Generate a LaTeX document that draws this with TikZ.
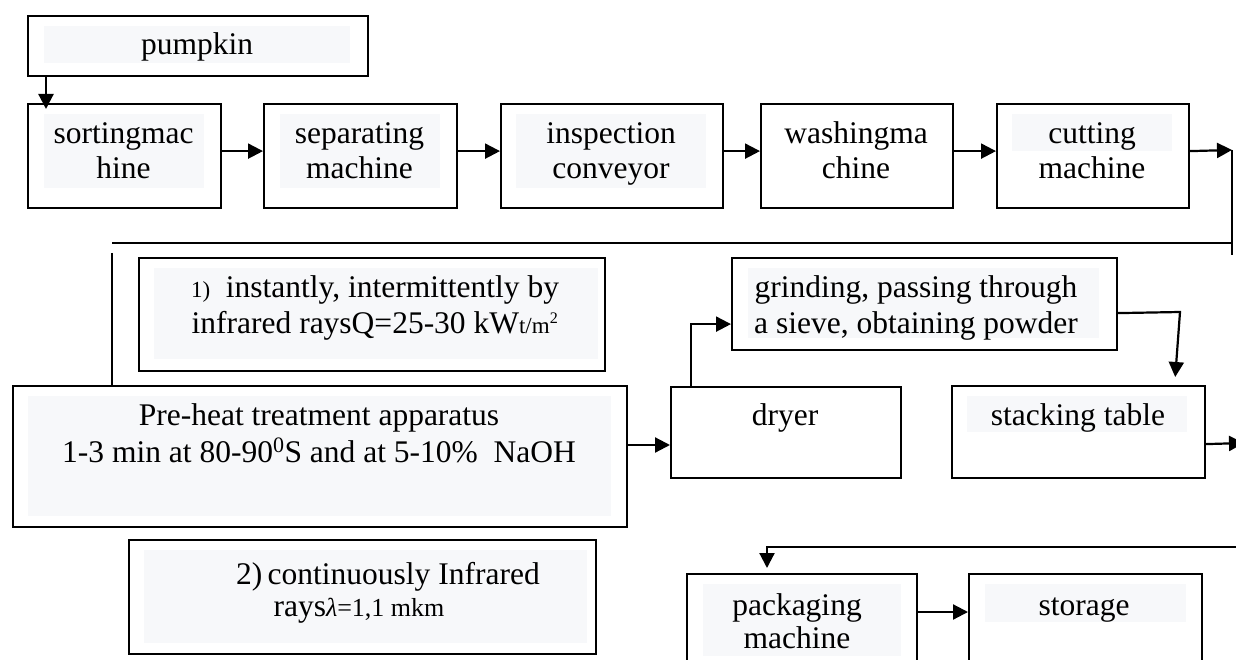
\documentclass[tikz,border=0pt]{standalone}
\usepackage{fontspec}
\setmainfont{Liberation Serif}
\usetikzlibrary{arrows.meta}
\definecolor{paneltint}{RGB}{247,248,250}
\newcommand{\smallbit}[1]{{\fontsize{23}{23}\selectfont #1}}

\begin{document}
\begin{tikzpicture}[x=1pt,y=-1pt,
  stage/.style={draw,line width=2.2pt,rectangle,inner sep=0pt,anchor=north west},
  lbl/.style={anchor=base,inner sep=0pt,font=\fontsize{31.5}{36}\selectfont},
  flow/.style={line width=2.2pt,-{Triangle[length=15pt,width=15pt]}},
  wire/.style={line width=2.2pt}]
\useasboundingbox (0,0) rectangle (1236,660);
\clip (0,0) rectangle (1236,660);

% light backgrounds behind the texts
\fill[paneltint] (44,26) rectangle (350,63);
\fill[paneltint] (44,114) rectangle (204,188);
\fill[paneltint] (280,114) rectangle (440,188);
\fill[paneltint] (516,114) rectangle (706,188);
\fill[paneltint] (1012,114) rectangle (1172,151);
\fill[paneltint] (154,268) rectangle (598,359);
\fill[paneltint] (28,396) rectangle (611,516);
\fill[paneltint] (748,268) rectangle (1099,338);
\fill[paneltint] (967,396) rectangle (1187,432);
\fill[paneltint] (144,550) rectangle (587,643);
\fill[paneltint] (703,584) rectangle (901,656);
\fill[paneltint] (985,584) rectangle (1186,622);

% boxes
\node[stage,minimum width=340pt,minimum height=60pt] (pumpkin) at (27,15) {};
\node[stage,minimum width=193pt,minimum height=104pt] (sorting) at (27,103) {};
\node[stage,minimum width=193pt,minimum height=104pt] (separating) at (263,103) {};
\node[stage,minimum width=222pt,minimum height=104pt] (inspection) at (500,103) {};
\node[stage,minimum width=192pt,minimum height=104pt] (washing) at (760,103) {};
\node[stage,minimum width=192pt,minimum height=104pt] (cutting) at (996,103) {};
\node[stage,minimum width=466pt,minimum height=113pt] (pulsed) at (138,257) {};
\node[stage,minimum width=614pt,minimum height=141pt] (preheat) at (12,385) {};
\node[stage,minimum width=230pt,minimum height=91pt] (dryer) at (670,386) {};
\node[stage,minimum width=385pt,minimum height=92pt] (grinding) at (731,257) {};
\node[stage,minimum width=253pt,minimum height=92pt] (stacking) at (951,385) {};
\node[stage,minimum width=467pt,minimum height=114pt] (steady) at (128,539) {};
\node[stage,minimum width=230pt,minimum height=120pt] (packaging) at (686,573) {};
\node[stage,minimum width=233pt,minimum height=120pt] (storage) at (968,573) {};

% texts
\path (197,55) node[lbl] (pumpkinA) {pumpkin};
\path (123.5,144) node[lbl] (sortingA) {sortingmac};
\path (123.5,179) node[lbl] (sortingB) {hine};
\path (359.5,144) node[lbl] (separatingA) {separating};
\path (359.5,179) node[lbl] (separatingB) {machine};
\path (611,144) node[lbl] (inspectionA) {inspection};
\path (611,179) node[lbl] (inspectionB) {conveyor};
\path (856,144) node[lbl] (washingA) {washingma};
\path (856,179) node[lbl] (washingB) {chine};
\path (1092,144) node[lbl] (cuttingA) {cutting};
\path (1092,179) node[lbl] (cuttingB) {machine};
\path (375,298) node[lbl] (pulsedA) {\smallbit{1)}\ \ instantly, intermittently by};
\path (375,333) node[lbl] (pulsedB) {infrared raysQ=25-30 kW\smallbit{t/m\textsuperscript{2}}};
\path (319,425) node[lbl] (preheatA) {Pre-heat treatment apparatus};
\path (319,462) node[lbl] (preheatB) {1-3 min at 80-90\textsuperscript{0}S and at 5-10\%\ \ NaOH};
\path (785,425) node[lbl] (dryerA) {dryer};
\path (916,297) node[lbl] (grindingA) {grinding, passing through};
\path (916,333) node[lbl] (grindingB) {a sieve, obtaining powder};
\path (1078,425) node[lbl] (stackingA) {stacking table};
\path (388,584) node[lbl] (steadyA) {2)\,continuously Infrared};
\path (359,616) node[lbl] (steadyB) {rays{\fontsize{26}{26}\selectfont\textit{λ}=1,1 mkm}};
\path (797,615) node[lbl] (packagingA) {packaging};
\path (797,648) node[lbl] (packagingB) {machine};
\path (1084,615) node[lbl] (storageA) {storage};

% connectors
\coordinate (turn1) at (1232,150);
\coordinate (turn2) at (1232,255);
\coordinate (back1) at (1232,243);
\coordinate (back2) at (112,243);
\coordinate (drop1) at (112,253);
\coordinate (lvl1) at (0,445);
\coordinate (bend1) at (1180,312);
\coordinate (exit1) at (1244,443);
\coordinate (entry1) at (1240,547);
\coordinate (lvl2) at (0,612);

\draw[flow] ([xshift=19pt]pumpkin.south west) -- ([xshift=19pt,yshift=-6pt]sorting.north west);
\draw[flow] ([yshift=5pt]sorting.east) -- ([yshift=5pt]separating.west);
\draw[flow] ([yshift=5pt]separating.east) -- ([yshift=5pt]inspection.west);
\draw[flow] ([yshift=5pt]inspection.east) -- ([yshift=5pt]washing.west);
\draw[flow] ([yshift=5pt]washing.east) -- ([yshift=5pt]cutting.west);
\draw[flow] ([yshift=5pt]cutting.east) -- (turn1);
\draw[wire] (turn1) -- (turn2);
\draw[wire] (back1) -- (back2);
\draw[wire] (drop1) -- (drop1 |- preheat.north);
\draw[flow] (preheat.east |- lvl1) -- (dryer.west |- lvl1);
\draw[flow] ([xshift=21pt]dryer.north west) |- ([yshift=-20pt]grinding.west);
\draw[flow] ([yshift=-9pt]grinding.east) -- (bend1) -- ([xshift=-31pt,yshift=8pt]stacking.north east);
\draw[flow] ([yshift=-12pt]stacking.east) -- (exit1);
\draw[flow] (entry1) -| ([xshift=81pt,yshift=5pt]packaging.north west);
\draw[flow] (packaging.east |- lvl2) -- (storage.west |- lvl2);
\end{tikzpicture}
\end{document}
